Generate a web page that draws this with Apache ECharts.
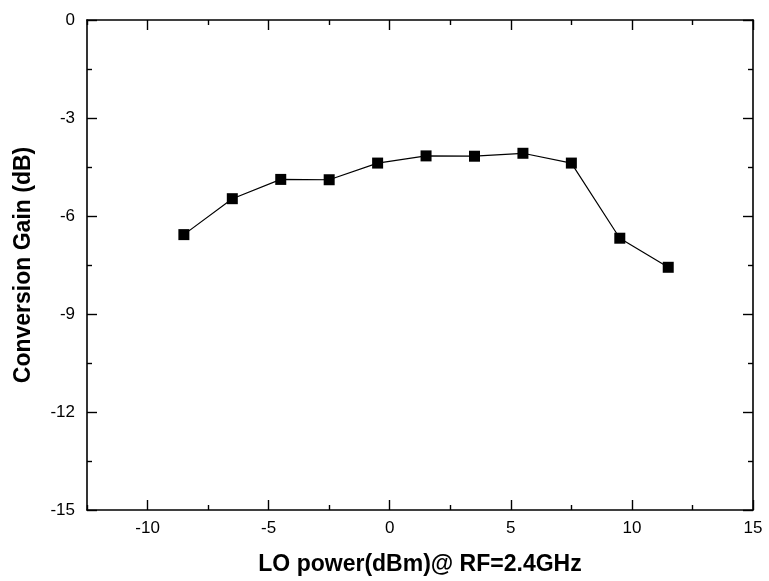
<!DOCTYPE html>
<html>
<head>
<meta charset="utf-8">
<script src="https://cdn.jsdelivr.net/npm/echarts@6/dist/echarts.min.js"></script>
<style>html,body{margin:0;padding:0;background:#fff;}#c{width:769px;height:581px;}</style>
</head>
<body>
<div id="c"></div>
<script>
var loPower = [-8.5, -6.5, -4.5, -2.5, -0.5, 1.5, 3.5, 5.5, 7.5, 9.5, 11.5];
var conversionGain = [-6.57, -5.47, -4.88, -4.89, -4.38, -4.16, -4.17, -4.08, -4.38, -6.68, -7.57];
var xMajorTicks = [-10, -5, 0, 5, 10, 15];
var xMinorTicks = [-12.5, -7.5, -2.5, 2.5, 7.5, 12.5];
var yMajorTicks = [-15, -12, -9, -6, -3, 0];
var xTitle = 'LO power(dBm)@ RF=2.4GHz';
var yTitle = 'Conversion Gain (dB)';

var font = 'Liberation Sans, Arial, sans-serif';
var data = loPower.map(function (x, i) { return [x, conversionGain[i]]; });
var lineS = { color: '#000', width: 1.6 };
var tickS = { color: '#000', width: 1.4 };

function xAx(pos, values, len, showLine, withLabel) {
  var a = {
    type: 'value', position: pos, min: -12.5, max: 15,
    axisLine: { show: showLine, onZero: false, lineStyle: lineS },
    axisTick: { show: true, inside: true, length: len, customValues: values, lineStyle: tickS },
    splitLine: { show: false },
    axisLabel: { show: false }
  };
  if (withLabel) {
    a.axisLabel = { show: true, customValues: values, color: '#000', fontFamily: font, fontSize: 17, margin: 10 };
    a.name = xTitle; a.nameLocation = 'middle'; a.nameGap = 43;
    a.nameTextStyle = { color: '#000', fontFamily: font, fontSize: 23, fontWeight: 'bold' };
  }
  return a;
}
function yAx(pos, withLabel) {
  var a = {
    type: 'value', position: pos, min: -15, max: 0, interval: 3,
    axisLine: { show: true, onZero: false, lineStyle: lineS },
    axisTick: { show: true, inside: true, length: 10, lineStyle: tickS },
    minorTick: { show: true, splitNumber: 2, length: 5, lineStyle: tickS },
    splitLine: { show: false },
    axisLabel: { show: false }
  };
  if (withLabel) {
    a.axisLabel = { show: true, color: '#000', fontFamily: font, fontSize: 17, margin: 12 };
    a.name = yTitle; a.nameLocation = 'middle'; a.nameGap = 52;
    a.nameTextStyle = { color: '#000', fontFamily: font, fontSize: 23, fontWeight: 'bold' };
  }
  return a;
}

var chart = echarts.init(document.getElementById('c'), null, { renderer: 'canvas' });
chart.setOption({
  animation: false,
  backgroundColor: '#fff',
  grid: { left: 87, right: 16, top: 20, bottom: 71 },
  xAxis: [
    xAx('bottom', xMajorTicks, 10, true, true),
    xAx('bottom', xMinorTicks, 5, false, false),
    xAx('top', xMajorTicks, 10, true, false),
    xAx('top', xMinorTicks, 5, false, false)
  ],
  yAxis: [yAx('left', true), yAx('right', false)],
  series: [{
    type: 'line', data: data, xAxisIndex: 0, yAxisIndex: 0,
    symbol: 'rect', symbolSize: 11,
    lineStyle: { color: '#000', width: 1.2 },
    itemStyle: { color: '#000' }
  }]
});
</script>
</body>
</html>
